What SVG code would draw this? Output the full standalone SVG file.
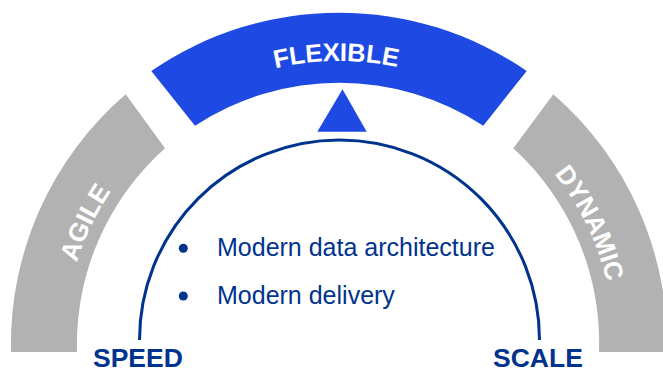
<svg xmlns="http://www.w3.org/2000/svg" width="663" height="372" viewBox="0 0 663 372">
  <style>
    .seg-blue { fill: #1E49E2; }
    .seg-gray { fill: #B2B2B2; }
    .band-label { font-family: "Liberation Sans", Arial, sans-serif; font-weight: bold; fill: #FFFFFF; }
    .pole { font-family: "Liberation Sans", Arial, sans-serif; font-weight: bold; font-size: 26.5px; fill: #00338D; }
    .bullet { font-family: "Liberation Sans", Arial, sans-serif; font-size: 25px; fill: #00338D; }
    .dot { fill: #00338D; }
    .arc { fill: none; stroke: #00338D; stroke-width: 3; }
  </style>
  <defs>
    <path id="pathF" d="M 55 345 A 284 284 0 0 1 623 345"/>
    <path id="pathG" d="M 64 345 A 275 275 0 0 1 614 345"/>
  </defs>

  <g id="agile">
    <path class="seg-gray" d="M 125.7 94.3 A 330 330 0 0 0 11 352 L 77 352 A 263 263 0 0 1 165 148.3 Z"/>
    <text class="band-label" font-size="26"><textPath href="#pathG" startOffset="14.3%" text-anchor="middle">AGILE</textPath></text>
  </g>

  <g id="flexible">
    <path class="seg-blue" d="M 151.3 71 A 331 331 0 0 1 526.7 71 L 483.3 125.7 A 263 263 0 0 0 195 125.7 Z"/>
    <text class="band-label" font-size="25.5"><textPath href="#pathF" startOffset="49.7%" text-anchor="middle">FLEXIBLE</textPath></text>
  </g>

  <g id="dynamic">
    <path class="seg-gray" d="M 553.3 94.3 A 330 330 0 0 1 667 352 L 599 352 A 263 263 0 0 0 513.3 148.3 Z"/>
    <text class="band-label" font-size="26"><textPath href="#pathG" startOffset="85.6%" text-anchor="middle">DYNAMIC</textPath></text>
  </g>

  <g id="pointer">
    <polygon class="seg-blue" points="342.5,89.3 317.3,131.7 366.7,131.7"/>
  </g>

  <g id="connectors">
    <path class="arc" d="M 139.5 340 A 200 200 0 0 1 539.5 340"/>
  </g>

  <g id="bullets">
    <circle class="dot" cx="183.3" cy="248.3" r="4.5"/>
    <text class="bullet" x="217" y="256">Modern data architecture</text>
    <circle class="dot" cx="183.3" cy="296" r="4.5"/>
    <text class="bullet" x="217" y="304">Modern delivery</text>
  </g>

  <g id="speed">
    <text class="pole" x="93" y="367">SPEED</text>
  </g>
  <g id="scale">
    <text class="pole" x="493" y="367">SCALE</text>
  </g>
</svg>
